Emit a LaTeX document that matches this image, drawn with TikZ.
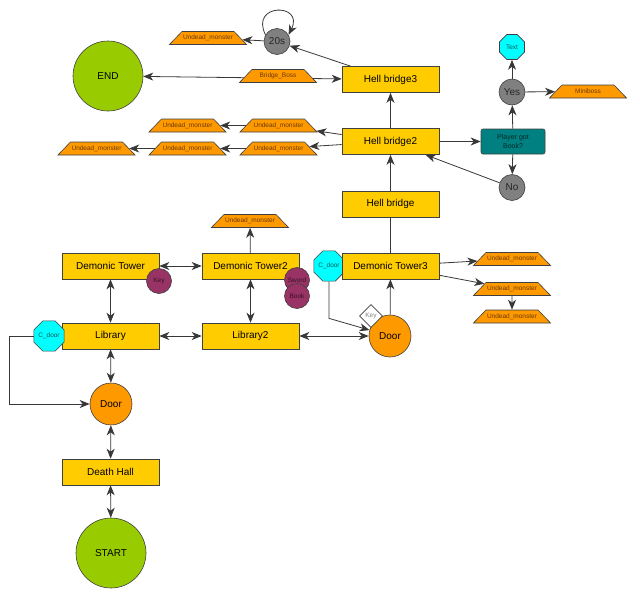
\documentclass[tikz,border=0pt]{standalone}
\usepackage{fontspec}
\setmainfont{Liberation Sans}
\usetikzlibrary{shapes.geometric,arrows.meta}
\definecolor{roomY}{HTML}{FFCC00}
\definecolor{orangeC}{HTML}{FF9900}
\definecolor{greenC}{HTML}{99CC00}
\definecolor{maroonC}{HTML}{993366}
\definecolor{tealC}{HTML}{008080}
\definecolor{grayC}{HTML}{808080}
\definecolor{cyanC}{HTML}{00FFFF}
\definecolor{lineC}{HTML}{383838}
\definecolor{monText}{HTML}{6B3A00}
\begin{document}
\begin{tikzpicture}[x=1pt,y=-1pt,
  bigfont/.style={font=\fontsize{10}{12}\selectfont},
  smallfont/.style={font=\fontsize{6.5}{7.5}\selectfont},
  room/.style={draw=black!75, fill=roomY, minimum width=97pt, minimum height=26pt, inner sep=0pt, line width=0.6pt, bigfont},
  bigc/.style={circle, draw=black!75, fill=greenC, minimum size=70pt, inner sep=0pt, line width=0.6pt, bigfont},
  doorc/.style={circle, draw=black!75, fill=orangeC, minimum size=42pt, inner sep=0pt, line width=0.6pt, bigfont},
  item/.style={circle, draw=black!75, fill=maroonC, minimum size=25pt, inner sep=0pt, line width=0.6pt, smallfont, text=maroonC!35!black},
  grayc/.style={circle, draw=black!75, fill=grayC, minimum size=26pt, inner sep=0pt, line width=0.6pt, bigfont, text=black!85},
  mon/.style={trapezium, trapezium left angle=46, trapezium right angle=46, draw=black!75, fill=orangeC, text width=52pt, align=center, text height=5pt, text depth=1.5pt, inner xsep=0pt, inner ysep=3.25pt, minimum width=0pt, minimum height=0pt, line width=0.6pt, smallfont, text=monText},
  oct/.style={regular polygon, regular polygon sides=8, draw=black!75, fill=cyanC, minimum size=27pt, inner sep=0pt, line width=0.6pt, smallfont, text=tealC!70!black},
  decision/.style={rectangle, rounded corners=2pt, draw=black!75, fill=tealC, minimum width=64pt, minimum height=25pt, inner sep=0pt, align=center, line width=0.6pt, font=\fontsize{7}{8.5}\selectfont, text=tealC!30!black},
  keyd/.style={diamond, draw=black!75, fill=white, minimum size=23pt, inner sep=0pt, line width=0.6pt, smallfont, text=black!50},
  link/.style={draw=lineC, line width=0.8pt, -{Stealth[length=10pt,width=8pt,inset=3pt]}},
  both/.style={draw=lineC, line width=0.8pt, {Stealth[length=10pt,width=8pt,inset=3pt]}-{Stealth[length=10pt,width=8pt,inset=3pt]}},
  plain/.style={draw=lineC, line width=0.8pt}
]
\useasboundingbox (0,0) rectangle (640,600);

% nodes
\node[bigc] (start) at (111,553) {START};
\node[room] (dh) at (110.5,472) {Death Hall};
\node[doorc] (dl) at (111,404) {Door};
\node[room] (lib) at (110.5,336) {Library};
\node[oct] (cdl) at (49,336) {C\_door};
\node[room] (dt1) at (110.5,266) {Demonic Tower};
\node[item] (key1) at (159,281) {Key};
\node[room] (lib2) at (250.5,336) {Library2};
\node[room] (dt2) at (250.5,266) {Demonic Tower2};
\node[item] (sword) at (297,280) {Sword};
\node[item] (book) at (297,296) {Book};
\node[mon] (m0) at (250,221) {Undead\_monster};
\node[doorc] (dr) at (390,336) {Door};
\node[keyd] (key2) at (371,316) {Key};
\node[oct] (cdr) at (329,266) {C\_door};
\node[room] (dt3) at (390.5,266) {Demonic Tower3};
\node[mon] (mr1) at (512,259) {Undead\_monster};
\node[mon] (mr2) at (512,289) {Undead\_monster};
\node[mon] (mr3) at (512,316.5) {Undead\_monster};
\node[room] (hb1) at (390.5,204) {Hell bridge};
\node[room] (hb2) at (390.5,141.5) {Hell bridge2};
\node[room] (hb3) at (390.5,79.5) {Hell bridge3};
\node[decision] (pb) at (513,141.5) {Player got\\Book?};
\node[grayc] (yes) at (512,92) {Yes};
\node[grayc] (no) at (512,187.5) {No};
\node[oct] (txt) at (512,47) {Text};
\node[mon] (mini) at (588,91.5) {Miniboss};
\node[grayc] (s20) at (277,41.5) {20s};
\node[mon] (mtop) at (208,38) {Undead\_monster};
\node[bigc] (endn) at (108,76) {END};
\node[mon] (m11) at (278.5,125.5) {Undead\_monster};
\node[mon] (m12) at (187.5,125.5) {Undead\_monster};
\node[mon] (m21) at (278.5,148.5) {Undead\_monster};
\node[mon] (m22) at (187.5,148.5) {Undead\_monster};
\node[mon] (m23) at (96.5,148.5) {Undead\_monster};

% connectors
\draw[both] (start) -- (dh);
\draw[both] (dh) -- (dl);
\draw[both] (dl) -- (lib);
\draw[both] (lib) -- (dt1);
\draw[both] (lib) -- (lib2);
\draw[both] (dt1) -- (dt2);
\draw[both] (dt2) -- (lib2);
\draw[both] (lib2) -- (dr);
\draw[link] (dt2) -- (m0);
\draw[link] (cdl.west) -- ++(-24pt,0pt) |- (dl.west);
\draw[link] (cdr.south) -- ++(0pt,-37pt) -- (dr);
\draw[link] (dr) -- (dt3);
\draw[link] (dt3) -- (mr1);
\draw[link] (dt3) -- (mr2);
\draw[link] (mr2) -- (mr3);
\draw[plain] (dt3) -- (hb1);
\draw[link] (hb1) -- (hb2);
\draw[link] (hb2) -- (hb3);
\draw[link] (hb2) -- (pb);
\draw[link] (pb) -- (yes);
\draw[link] (pb) -- (no);
\draw[link] (no) -- (hb2);
\draw[link] (yes) -- (txt);
\draw[link] (yes) -- (mini);
\draw[link] (hb2) -- (m11);
\draw[link] (hb2) -- (m21);
\draw[link] (m11) -- (m12);
\draw[link] (m21) -- (m22);
\draw[link] (m22) -- (m23);
\draw[link] (hb3) -- (s20);
\draw[link] (s20) -- (mtop);
\draw[link] (s20.150) .. controls ([shift={(-16pt,32pt)}]s20.150) and ([shift={(16pt,32pt)}]s20.30) .. (s20.30);
\draw[both] (endn) -- (hb3);
\node[mon] (bb) at (278,76) {Bridge\_Boss};
\end{tikzpicture}
\end{document}
